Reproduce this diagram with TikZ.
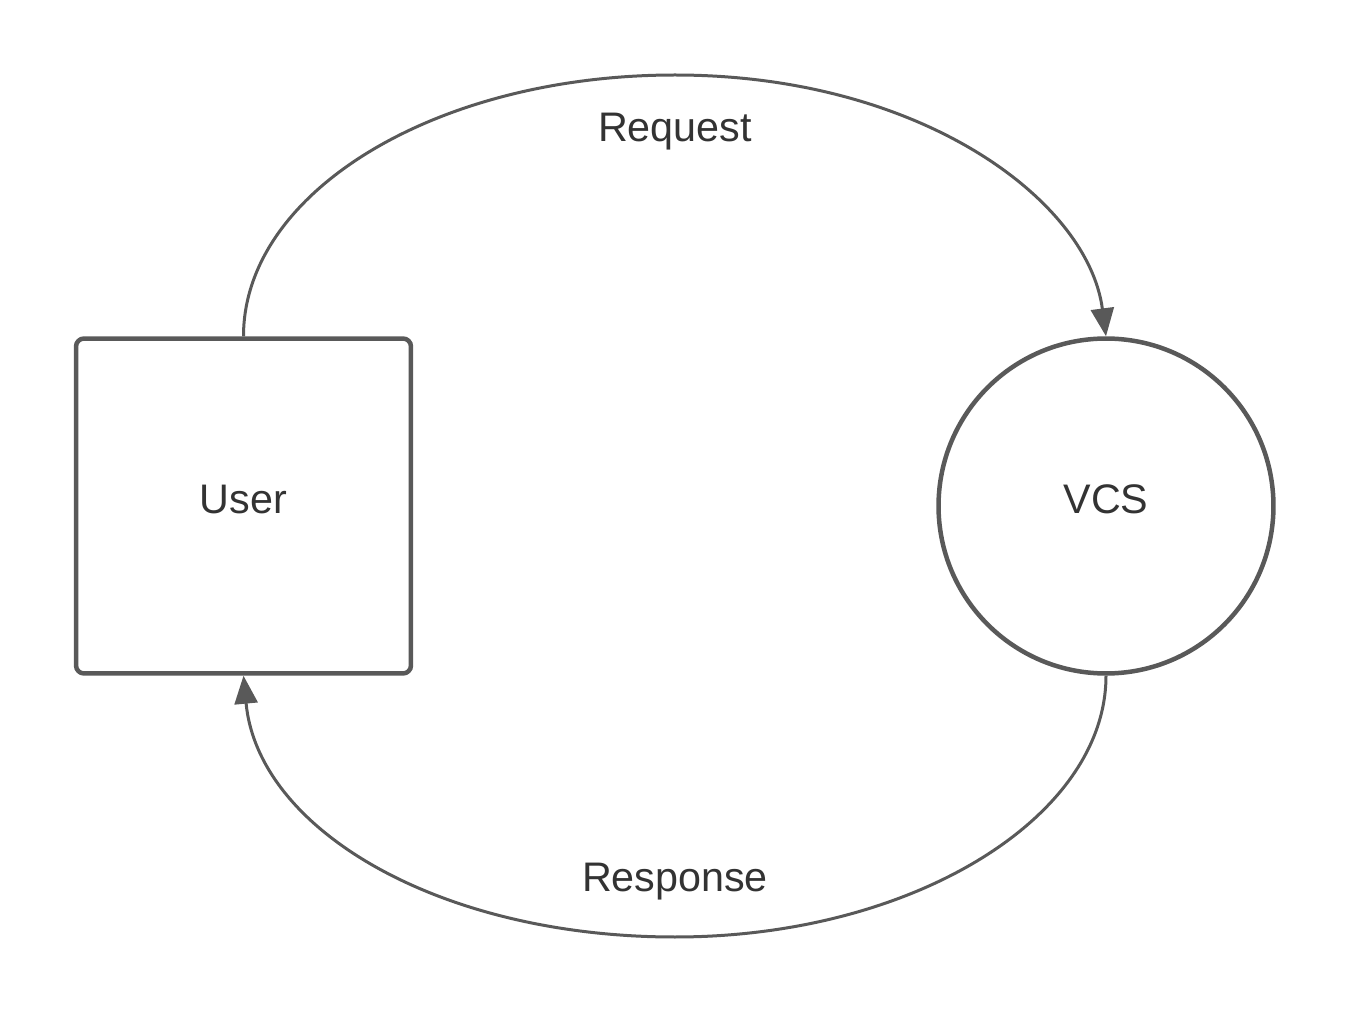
\documentclass[tikz,border=0pt]{standalone}
\usepackage{fontspec}
\setmainfont{Liberation Sans}
\usetikzlibrary{arrows.meta}
\definecolor{linegray}{HTML}{595959}
\definecolor{textgray}{HTML}{333333}
\begin{document}
\begin{tikzpicture}[x=0.02cm,y=-0.02cm,
  every node/.style={text=textgray,font=\fontsize{23.5}{28}\selectfont},
  entity/.style={draw=linegray,line width=0.09cm,rounded corners=0.16cm,minimum width=6.7cm,minimum height=6.7cm,text depth=0.26cm},
  store/.style={draw=linegray,line width=0.09cm,circle,minimum size=6.7cm,text depth=0.26cm},
  flow/.style={draw=linegray,line width=0.06cm,-{Triangle[length=0.56cm,width=0.46cm]}}]
\useasboundingbox (0,0) rectangle (1350,1013);
\node (U)[entity] at (243.5,506) {User};
\node (V)[store] at (1106,506) {VCS};
\node (RQ) at (675,132) {Request};
\node (RS) at (675,882) {Response};
\draw[flow] (U.north) .. controls (243.5,192) and (436,75) .. (675,75)
  .. controls (920,75) and (1088,200) .. (V.north);
\draw[flow] (V.south) .. controls (1106,817) and (913,937) .. (675,937)
  .. controls (440,937) and (258,830) .. (U.south);
\end{tikzpicture}
\end{document}
